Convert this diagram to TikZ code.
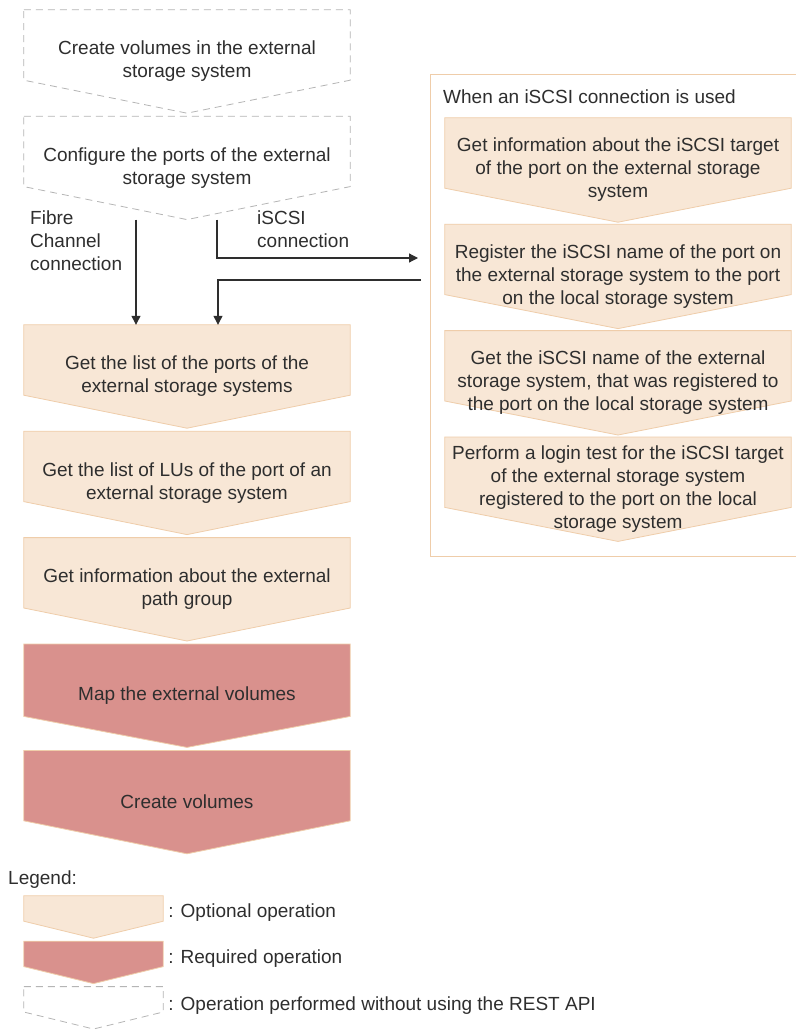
\documentclass[tikz,border=0pt]{standalone}
\usepackage{fontspec}
\setmainfont{Liberation Sans}
\usetikzlibrary{positioning, arrows.meta, backgrounds, fit}
\definecolor{optfill}{HTML}{F8E7D6}
\definecolor{optline}{HTML}{EFCDAA}
\definecolor{reqfill}{HTML}{D9918D}
\definecolor{manline}{HTML}{B5B5B5}
\definecolor{txt}{HTML}{2E2E2E}

\begin{document}
\begin{tikzpicture}[
        x=1pt, y=-1pt,
        node distance=3pt,
        every node/.style={font=\fontsize{19}{23}\selectfont, text=txt},
        step_node/.style={rectangle, minimum width=326pt, minimum height=103pt, inner sep=0pt, align=center},
        iscsi_node/.style={rectangle, minimum width=346pt, minimum height=104pt, inner sep=0pt, align=center},
        legend_node/.style={rectangle, minimum width=139pt, minimum height=42pt, inner sep=0pt},
        label_node/.style={inner sep=0pt, align=left},
        optional_shape/.style={fill=optfill, draw=optline, line width=0.8pt},
        required_shape/.style={fill=reqfill, draw=optline, line width=0.8pt},
        manual_shape/.style={fill=white, draw=manline, line width=0.8pt, dash pattern=on 7pt off 5pt},
        arrow/.style={-{Triangle[width=9pt, length=9pt]}, line width=1.2pt, draw=txt}
    ]
        \useasboundingbox (0,0) rectangle (795,1030);

        % Nodes
        \node (make) [step_node] at (187,61.5) {Create volumes in the external\\storage system};
        \node (cfg) [step_node, below=of make] {Configure the ports of the external\\storage system};
        \node (ports) [step_node] at (187,376.5) {Get the list of the ports of the\\external storage systems};
        \node (lus) [step_node, below=of ports] {Get the list of LUs of the port of an\\external storage system};
        \node (pathgrp) [step_node, below=of lus] {Get information about the external\\path group};
        \node (mapvol) [step_node, below=of pathgrp] {Map the external volumes};
        \node (createvol) [step_node, below=of mapvol] {Create volumes};

        \node (title) [anchor=west, inner sep=0pt] at (443,97) {When an iSCSI connection is used};
        \node (target) [iscsi_node] at (618,170) {Get information about the iSCSI target\\of the port on the external storage\\system};
        \node (regname) [iscsi_node, below=2pt of target] {Register the iSCSI name of the port on\\the external storage system to the port\\on the local storage system};
        \node (getname) [iscsi_node, below=2pt of regname] {Get the iSCSI name of the external\\storage system, that was registered to\\the port on the local storage system};
        \node (login) [iscsi_node, below=2pt of getname] {Perform a login test for the iSCSI target\\of the external storage system\\registered to the port on the local\\storage system};

        \node (fc_label) [label_node, anchor=north west] at (30,211) {Fibre\\Channel\\connection};
        \node (iscsi_label) [label_node, anchor=north west] at (257,211) {iSCSI\\connection};

        % Legend
        \node (legend_title) [anchor=west, inner sep=0pt] at (8,880) {Legend:};
        \node (leg_opt) [legend_node] at (93.5,917) {};
        \node (leg_req) [legend_node, below=of leg_opt] {};
        \node (leg_man) [legend_node, below=of leg_req] {};
        \node (leg_opt_text) [anchor=west, inner sep=0pt] at ([xshift=5pt, yshift=4pt]leg_opt.east) {: Optional operation};
        \node (leg_req_text) [anchor=west, inner sep=0pt] at ([xshift=5pt, yshift=4pt]leg_req.east) {: Required operation};
        \node (leg_man_text) [anchor=west, inner sep=0pt] at ([xshift=5pt, yshift=2pt]leg_man.east) {: Operation performed without using the REST API};

        % Arrows
        \coordinate (iscsi_out) at (418,258);
        \coordinate (iscsi_back) at (421,280);
        \draw [arrow] ([xshift=-51pt]cfg.south) -- ([xshift=-51pt]ports.north);
        \draw [arrow] ([xshift=30pt]cfg.south) |- (iscsi_out);
        \draw [arrow] (iscsi_back) -| ([xshift=31pt]ports.north);

        % Shapes
        \begin{scope}[on background layer]
            \node (iscsi_group) [draw=optline, line width=0.8pt, fill=white, inner xsep=13pt, inner ysep=15pt, fit=(title) (target) (login)] {};
            \foreach \n/\d in {make/33, cfg/33, leg_man/17}
                \draw [manual_shape] (\n.north west) -- (\n.north east) -- ([yshift=\d pt]\n.south east) -- (\n.south) -- ([yshift=\d pt]\n.south west) -- cycle;
            \foreach \n/\d in {ports/33, lus/33, pathgrp/33, target/34, regname/34, getname/34, login/34, leg_opt/17}
                \draw [optional_shape] (\n.north west) -- (\n.north east) -- ([yshift=\d pt]\n.south east) -- (\n.south) -- ([yshift=\d pt]\n.south west) -- cycle;
            \foreach \n/\d in {mapvol/31, createvol/33, leg_req/17}
                \draw [required_shape] (\n.north west) -- (\n.north east) -- ([yshift=\d pt]\n.south east) -- (\n.south) -- ([yshift=\d pt]\n.south west) -- cycle;
        \end{scope}
    \end{tikzpicture}
\end{document}
